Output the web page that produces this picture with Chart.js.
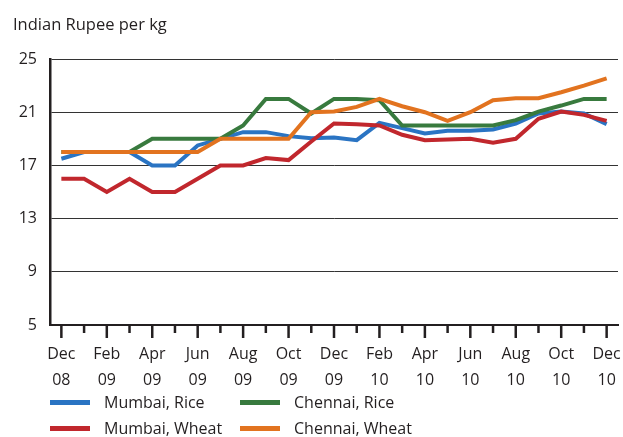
<!DOCTYPE html>
<html lang="en">
<head>
  <meta charset="UTF-8" />
  <title>Indian Rupee per kg</title>
  <script src="https://cdn.jsdelivr.net/npm/chart.js"></script>
  <style>
    html, body { margin: 0; padding: 0; background: #fff; }
    #wrap { position: relative; width: 623px; height: 437px; font-family: "Open Sans", sans-serif; color: #231f20; }
    #titulo { position: absolute; left: 13px; top: 12px; font-size: 16.5px; }
    .leg { position: absolute; font-size: 16px; line-height: 20px; }
    .leg span { position: absolute; left: 0; top: 8px; width: 40px; height: 5px; }
    .leg b { position: absolute; left: 54px; top: 0; font-weight: normal; white-space: nowrap; }
  </style>
</head>
<body>
  <div id="wrap">
    <canvas id="grafico" width="623" height="437"></canvas>
    <div id="titulo">Indian Rupee per kg</div>
    <div id="legenda"></div>
  </div>

  <script>
    const meses = [
      ["Dec", "08"], "", ["Feb", "09"], "", ["Apr", "09"], "", ["Jun", "09"], "", ["Aug", "09"], "", ["Oct", "09"], "",
      ["Dec", "09"], "", ["Feb", "10"], "", ["Apr", "10"], "", ["Jun", "10"], "", ["Aug", "10"], "", ["Oct", "10"], "",
      ["Dec", "10"]
    ];
    const yTicks = [5, 9, 13, 17, 21, 25];

    const mumbaiArroz = [17.5, 18, 18, 18, 17, 17, 18.5, 19, 19.5, 19.5, 19.2, 19.05, 19.1, 18.9, 20.2, 19.8, 19.4, 19.6, 19.6, 19.7, 20.15, 20.9, 21.05, 20.9, 20.1];
    const mumbaiTrigo = [16, 16, 15, 16, 15, 15, 16, 17, 17, 17.55, 17.4, 18.8, 20.15, 20.1, 20.0, 19.3, 18.9, 18.95, 19.0, 18.7, 19.0, 20.5, 21.05, 20.8, 20.35];
    const chennaiArroz = [18, 18, 18, 18, 19, 19, 19, 19, 20, 22, 22, 20.9, 22, 22, 21.9, 20, 20, 20, 20, 20, 20.4, 21.05, 21.5, 22, 22];
    const chennaiTrigo = [18, 18, 18, 18, 18, 18, 18, 19, 19, 19, 19, 21, 21.05, 21.4, 22, 21.45, 21, 20.35, 21, 21.9, 22.05, 22.05, 22.5, 23, 23.55];

    const series = [
      { nome: "Mumbai, Rice", dados: mumbaiArroz, cor: "#2a74c3", ordem: 4, col: 0, lin: 0 },
      { nome: "Chennai, Rice", dados: chennaiArroz, cor: "#387a3e", ordem: 2, col: 1, lin: 0 },
      { nome: "Mumbai, Wheat", dados: mumbaiTrigo, cor: "#c1272d", ordem: 3, col: 0, lin: 1 },
      { nome: "Chennai, Wheat", dados: chennaiTrigo, cor: "#e2731f", ordem: 1, col: 1, lin: 1 }
    ];

    const tinta = "#231f20";
    const fonte = { family: "'Open Sans', sans-serif", size: 16 };

    // marcas do eixo x (maiores nos meses com rótulo)
    const marcasX = {
      id: "marcasX",
      afterDraw(chart) {
        const x = chart.scales.x;
        const ctx = chart.ctx;
        const base = chart.chartArea.bottom;
        ctx.save();
        ctx.strokeStyle = tinta;
        ctx.lineWidth = 2.5;
        for (let i = 0; i < meses.length; i++) {
          const px = x.getPixelForTick(i);
          const len = i % 2 === 0 ? 13 : 8;
          ctx.beginPath();
          ctx.moveTo(px, base);
          ctx.lineTo(px, base + len);
          ctx.stroke();
        }
        ctx.restore();
      }
    };

    new Chart(document.getElementById("grafico"), {
      type: "line",
      data: {
        labels: meses,
        datasets: series.map(s => ({
          label: s.nome,
          data: s.dados,
          borderColor: s.cor,
          backgroundColor: s.cor,
          borderWidth: 4,
          pointRadius: 0,
          tension: 0,
          order: s.ordem
        }))
      },
      options: {
        responsive: false,
        animation: false,
        layout: { padding: { left: 0, top: 59, right: 5, bottom: 47 } },
        plugins: {
          legend: { display: false },
          tooltip: { enabled: false }
        },
        scales: {
          x: {
            type: "category",
            offset: true,
            grid: { display: false, drawTicks: false },
            border: { display: true, color: tinta, width: 2 },
            ticks: {
              autoSkip: false,
              maxRotation: 0,
              padding: 17,
              color: tinta,
              font: { ...fonte, lineHeight: 1.6 }
            },
            afterFit(scale) {
              scale.height = 65;
              scale.paddingLeft = 0;
              scale.paddingRight = 0;
            }
          },
          y: {
            min: 5,
            max: 25,
            afterBuildTicks(scale) { scale.ticks = yTicks.map(v => ({ value: v })); },
            grid: { color: "#333", lineWidth: 1, drawTicks: false },
            border: { display: true, color: tinta, width: 2.5 },
            ticks: { padding: 13, color: tinta, font: fonte },
            afterFit(scale) {
              scale.width = 50;
              scale.paddingTop = 0;
              scale.paddingBottom = 0;
            }
          }
        }
      },
      plugins: [marcasX]
    });

    // legenda em duas colunas
    const leg = document.getElementById("legenda");
    series.forEach(s => {
      const d = document.createElement("div");
      d.className = "leg";
      d.style.left = (s.col ? 240 : 50) + "px";
      d.style.top = (s.lin ? 418 : 392) + "px";
      d.innerHTML = `<span style="background:${s.cor}"></span><b>${s.nome}</b>`;
      leg.appendChild(d);
    });
  </script>
</body>
</html>
